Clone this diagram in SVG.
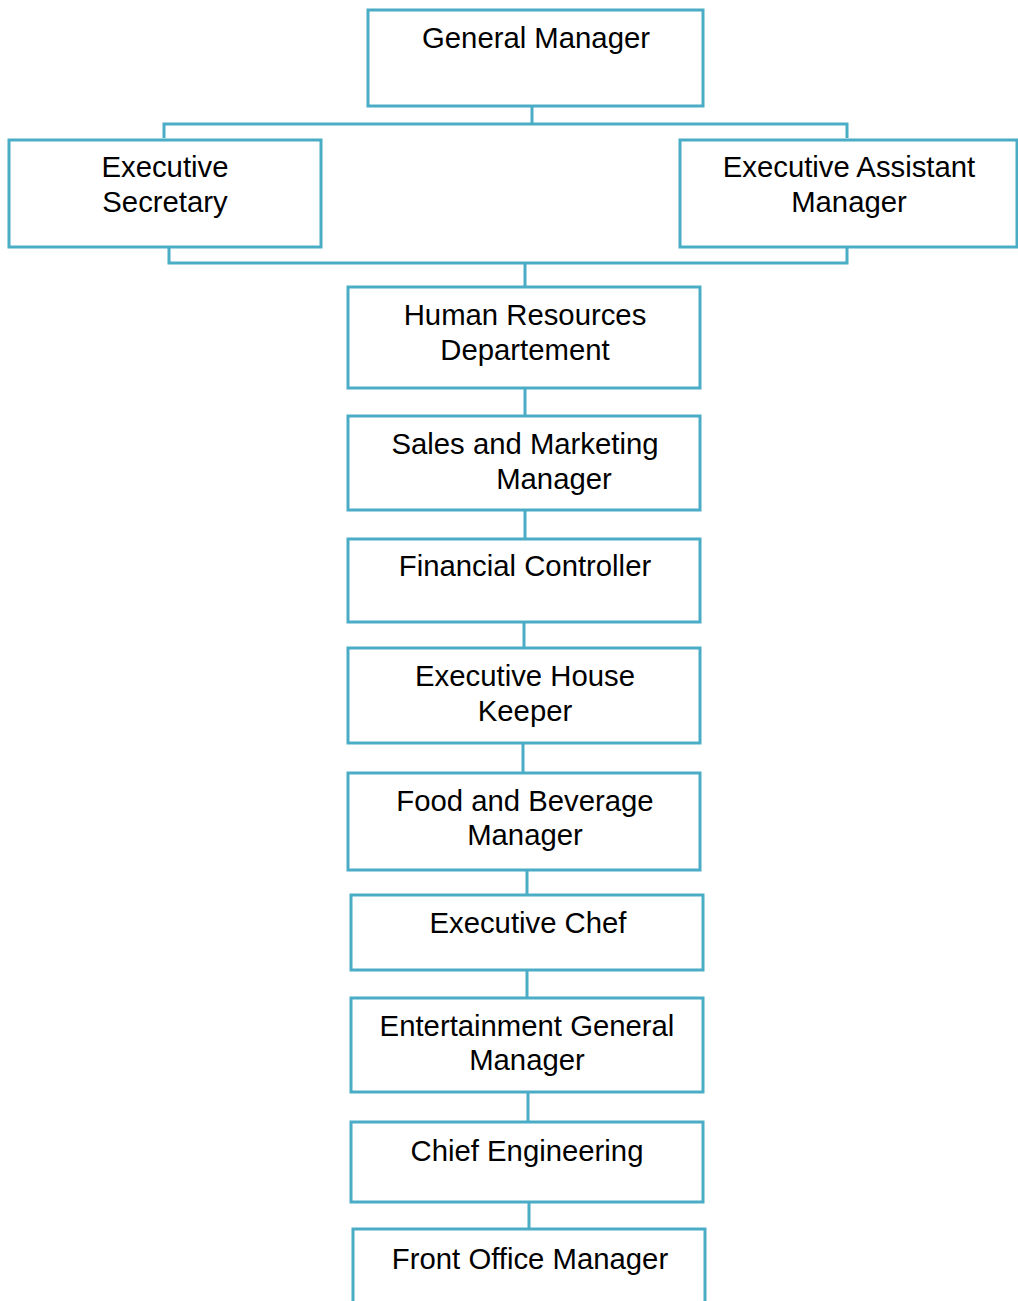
<svg xmlns="http://www.w3.org/2000/svg" width="1018" height="1301" viewBox="0 0 1018 1301">
<style>
.box{fill:#ffffff;stroke:#4bacc6;stroke-width:3}
.ln{fill:none;stroke:#4bacc6;stroke-width:3}
text{font-family:"Liberation Sans",Arial,sans-serif;font-size:29.3px;fill:#000000;text-anchor:middle}
</style>
<rect width="1018" height="1301" fill="#ffffff"/>
<g id="connectors">
<path class="ln" d="M532 106V124M164 138V124H847V138"/>
<path class="ln" d="M169 247V263H847V247M525 263V287"/>
<path class="ln" d="M525 388V416M525 510V539M524 622V648M523 743V773M527 870V895M527 970V998M528 1092V1122M529 1202V1229"/>
</g>
<g id="general-manager"><rect class="box" x="368" y="10" width="335" height="96"/><text x="536" y="48">General Manager</text></g>
<g id="executive-secretary"><rect class="box" x="9" y="140" width="312" height="107"/><text x="165" y="177">Executive</text><text x="165" y="212">Secretary</text></g>
<g id="executive-assistant-manager"><rect class="box" x="680" y="140" width="337" height="107"/><text x="849" y="177">Executive Assistant</text><text x="849" y="212">Manager</text></g>
<g id="hr"><rect class="box" x="348" y="287" width="352" height="101"/><text x="525" y="325">Human Resources</text><text x="525" y="360">Departement</text></g>
<g id="sales"><rect class="box" x="348" y="416" width="352" height="94"/><text x="525" y="454">Sales and Marketing</text><text x="554" y="489">Manager</text></g>
<g id="financial"><rect class="box" x="348" y="539" width="352" height="83"/><text x="525" y="576">Financial Controller</text></g>
<g id="housekeeper"><rect class="box" x="348" y="648" width="352" height="95"/><text x="525" y="686">Executive House</text><text x="525" y="721">Keeper</text></g>
<g id="fnb"><rect class="box" x="348" y="773" width="352" height="97"/><text x="525" y="811">Food and Beverage</text><text x="525" y="845">Manager</text></g>
<g id="chef"><rect class="box" x="351" y="895" width="352" height="75"/><text x="528" y="933">Executive Chef</text></g>
<g id="entertainment"><rect class="box" x="351" y="998" width="352" height="94"/><text x="527" y="1036">Entertainment General</text><text x="527" y="1070">Manager</text></g>
<g id="engineering"><rect class="box" x="351" y="1122" width="352" height="80"/><text x="527" y="1161">Chief Engineering</text></g>
<g id="front-office"><rect class="box" x="353" y="1229" width="352" height="80"/><text x="530" y="1269">Front Office Manager</text></g>
</svg>
